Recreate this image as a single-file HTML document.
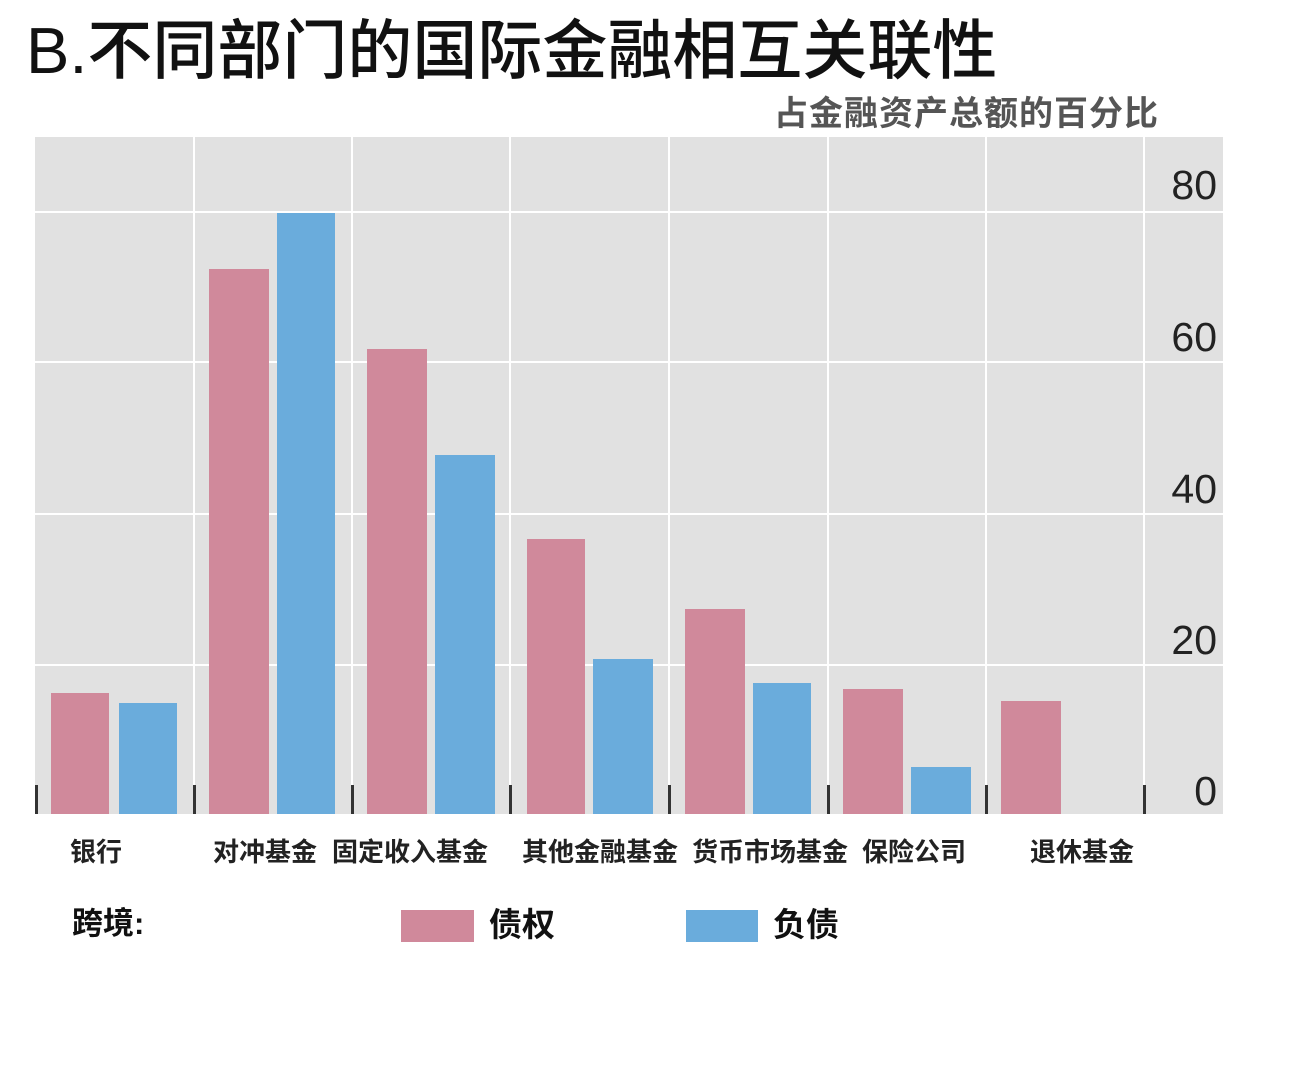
<!DOCTYPE html>
<html><head><meta charset="utf-8"><style>
body{margin:0;width:1294px;height:1068px;background:#fff;position:relative;overflow:hidden;font-family:"Liberation Sans","Noto Sans CJK SC",sans-serif;}
.a{position:absolute}
.g{position:absolute;background:#fff}
.r{position:absolute;background:#d0899b}
.b{position:absolute;background:#6aacdc}
.t{position:absolute;background:#333;width:3px;top:785px;height:29px}
.xl{position:absolute;top:832px;font-size:26px;color:#222;white-space:nowrap;font-weight:bold}
.yl{position:absolute;right:77px;font-size:41px;color:#222;font-weight:500}
</style></head><body>
<div class="a" style="left:26px;top:10px;font-size:65px;color:#111;line-height:82px;font-weight:500">B.不同部门的国际金融相互关联性</div>
<div class="a" style="left:774px;top:86px;font-size:34px;color:#555;font-weight:bold;letter-spacing:1px">占金融资产总额的百分比</div>
<div class="a" style="left:35px;top:137px;width:1188px;height:677px;background:#e1e1e1"></div>
<div class="g" style="left:35px;top:211px;width:1188px;height:2px"></div>
<div class="g" style="left:35px;top:361px;width:1188px;height:2px"></div>
<div class="g" style="left:35px;top:513px;width:1188px;height:2px"></div>
<div class="g" style="left:35px;top:664px;width:1188px;height:2px"></div>
<div class="g" style="left:193px;top:137px;width:2px;height:677px"></div>
<div class="g" style="left:351px;top:137px;width:2px;height:677px"></div>
<div class="g" style="left:509px;top:137px;width:2px;height:677px"></div>
<div class="g" style="left:668px;top:137px;width:2px;height:677px"></div>
<div class="g" style="left:827px;top:137px;width:2px;height:677px"></div>
<div class="g" style="left:985px;top:137px;width:2px;height:677px"></div>
<div class="g" style="left:1143px;top:137px;width:2px;height:677px"></div>
<div class="t" style="left:35px"></div><div class="t" style="left:193px"></div><div class="t" style="left:351px"></div><div class="t" style="left:509px"></div><div class="t" style="left:668px"></div><div class="t" style="left:827px"></div><div class="t" style="left:985px"></div><div class="t" style="left:1143px"></div>
<div class="r" style="left:51px;top:693px;width:58px;height:121px"></div>
<div class="b" style="left:119px;top:703px;width:58px;height:111px"></div>
<div class="r" style="left:209px;top:269px;width:60px;height:545px"></div>
<div class="b" style="left:277px;top:213px;width:58px;height:601px"></div>
<div class="r" style="left:367px;top:349px;width:60px;height:465px"></div>
<div class="b" style="left:435px;top:455px;width:60px;height:359px"></div>
<div class="r" style="left:527px;top:539px;width:58px;height:275px"></div>
<div class="b" style="left:593px;top:659px;width:60px;height:155px"></div>
<div class="r" style="left:685px;top:609px;width:60px;height:205px"></div>
<div class="b" style="left:753px;top:683px;width:58px;height:131px"></div>
<div class="r" style="left:843px;top:689px;width:60px;height:125px"></div>
<div class="b" style="left:911px;top:767px;width:60px;height:47px"></div>
<div class="r" style="left:1001px;top:701px;width:60px;height:113px"></div>
<div class="yl" style="top:162px">80</div>
<div class="yl" style="top:314px">60</div>
<div class="yl" style="top:466px">40</div>
<div class="yl" style="top:617px">20</div>
<div class="yl" style="top:768px">0</div>
<div class="xl" style="left:70px">银行</div>
<div class="xl" style="left:213px">对冲基金</div>
<div class="xl" style="left:332px">固定收入基金</div>
<div class="xl" style="left:522px">其他金融基金</div>
<div class="xl" style="left:692px">货币市场基金</div>
<div class="xl" style="left:862px">保险公司</div>
<div class="xl" style="left:1030px">退休基金</div>
<div class="a" style="left:72px;top:898px;font-size:31px;color:#111;font-weight:bold">跨境:</div>
<div class="r" style="left:401px;top:910px;width:73px;height:32px"></div>
<div class="a" style="left:489px;top:898px;font-size:33px;color:#111;font-weight:bold">债权</div>
<div class="b" style="left:686px;top:910px;width:72px;height:32px"></div>
<div class="a" style="left:773px;top:898px;font-size:33px;color:#111;font-weight:bold">负债</div>
</body></html>
